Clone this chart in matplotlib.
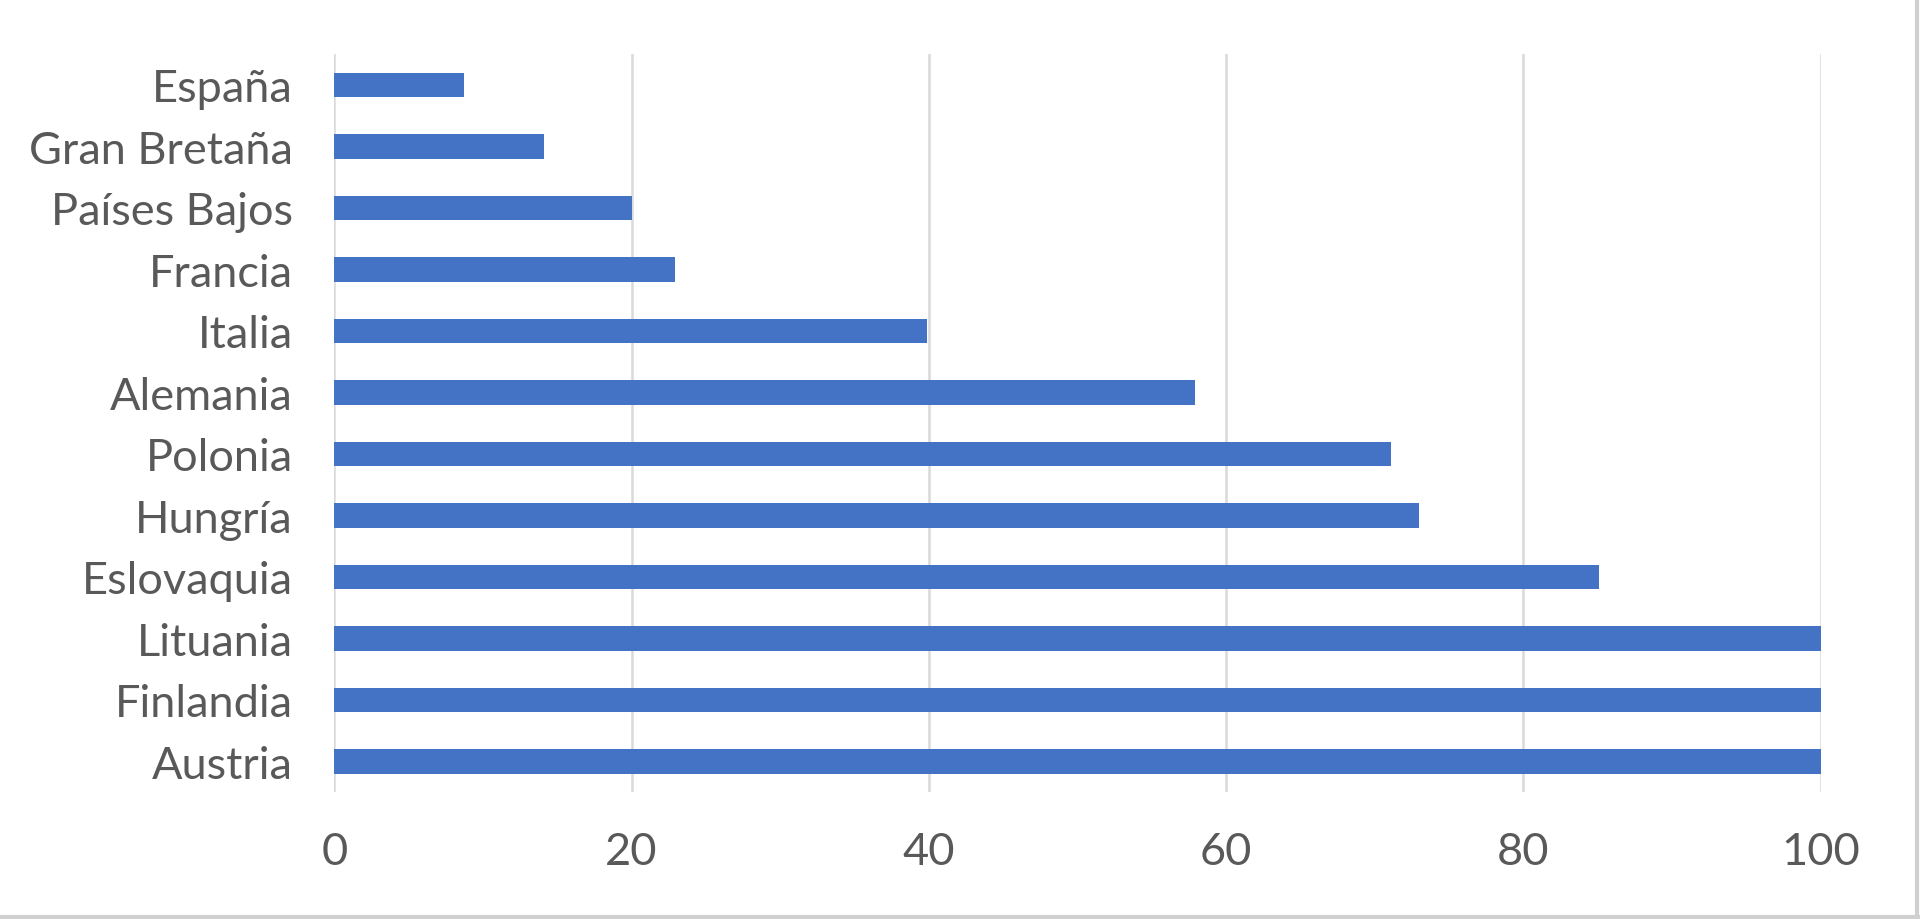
import matplotlib
matplotlib.use('Agg')
import matplotlib.pyplot as plt
from matplotlib.lines import Line2D

# data, bottom to top as drawn
countries = ['Austria', 'Finlandia', 'Lituania', 'Eslovaquia', 'Hungría',
             'Polonia', 'Alemania', 'Italia', 'Francia', 'Países Bajos',
             'Gran Bretaña', 'España']
values = [100, 100, 100, 85.1, 73.0, 71.1, 57.9, 39.9, 22.9, 20.0, 14.1, 8.7]
xticks = [0, 20, 40, 60, 80, 100]

bar_color = '#4472C4'
text_color = '#595959'
grid_color = '#D9D9D9'

plt.rcParams['font.family'] = ['Lato', 'DejaVu Sans']

fig = plt.figure(figsize=(19.2, 9.2), dpi=100)
ax = fig.add_axes([0.1741, 0.138, 0.9483 - 0.1741, 0.940 - 0.138])

ypos = list(range(len(countries)))
ax.barh(ypos, values, height=0.4, color=bar_color, zorder=3)

ax.set_xlim(0, 100)
ax.set_ylim(-0.5, len(countries) - 0.5)
ax.set_xticks(xticks)
ax.set_yticks(ypos)
ax.set_yticklabels(countries)

for sp in ax.spines.values():
    sp.set_visible(False)
ax.xaxis.grid(True, color=grid_color, linewidth=1.8, zorder=0)
ax.tick_params(axis='both', length=0, colors=text_color, labelsize=32.5)
ax.tick_params(axis='x', pad=28)
ax.tick_params(axis='y', pad=30)
for lbl in ax.get_yticklabels():
    lbl.set_va('center_baseline')

# light frame along right and bottom edges of the picture
fig.add_artist(Line2D([0.9985, 0.9985], [0, 1], transform=fig.transFigure,
                      color='#D0D0D0', linewidth=3))
fig.add_artist(Line2D([0, 1], [0.002, 0.002], transform=fig.transFigure,
                      color='#D0D0D0', linewidth=3))

fig.savefig('out.png', dpi=100, facecolor='white')
plt.close(fig)
